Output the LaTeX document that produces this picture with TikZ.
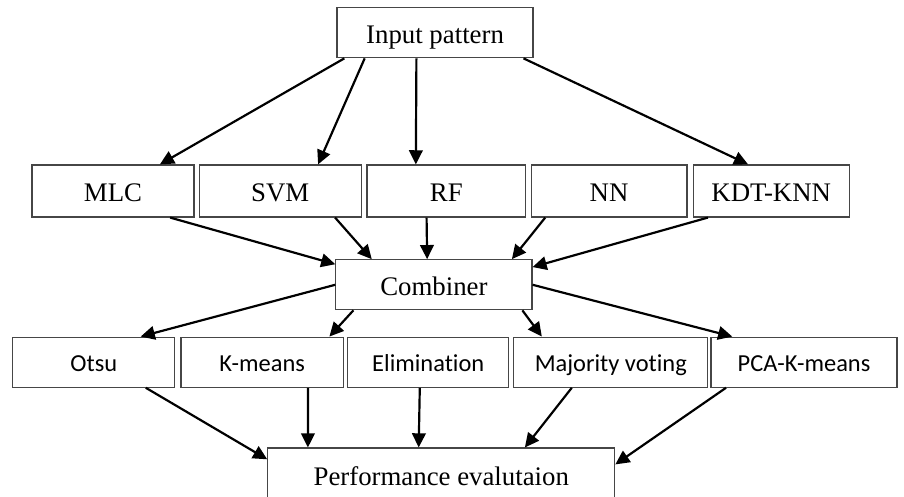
\documentclass[tikz,border=0pt]{standalone}
\usepackage{fontspec}
\setmainfont{Liberation Serif}
\newfontfamily\calibri[Ligatures=NoCommon]{Carlito}
\usepackage{tikz}
\usetikzlibrary{arrows.meta, positioning}
\definecolor{boxline}{RGB}{70,70,70}

\begin{document}
\begin{tikzpicture}[
    block/.style={rectangle, draw=boxline, line width=0.6pt, fill=white, minimum width=2.87cm, minimum height=0.92cm, inner sep=0pt, align=center, text height=10.5pt, text depth=0pt, font=\fontsize{13.5}{16}\selectfont},
    sblock/.style={block, minimum height=0.885cm, text height=9pt, text depth=0pt, font=\calibri\fontsize{12.3}{15}\selectfont},
    arrow/.style={-{Triangle[length=2.5mm, width=2.4mm]}, line width=1.1pt}
]
    \useasboundingbox (0,0) rectangle (16,-8.78);

    % Input
    \node[block, minimum width=3.47cm, minimum height=0.885cm] (input) at (7.70,-0.58) {Input pattern};

    % Classifiers
    \node[block] (mlc) at (2.00,-3.38) {MLC};
    \node[block] (svm) at (4.96,-3.38) {SVM};
    \node[block, minimum width=2.81cm] (rf) at (7.90,-3.38) {RF};
    \node[block, minimum width=2.76cm] (nn) at (10.78,-3.38) {NN};
    \node[block, minimum width=2.76cm] (kdt) at (13.65,-3.38) {KDT-KNN};

    % Combiner
    \node[block, minimum width=3.47cm, minimum height=0.885cm] (comb) at (7.68,-5.04) {Combiner};

    % Fusion methods
    \node[sblock] (otsu) at (1.66,-6.41) {Otsu};
    \node[sblock] (kmeans) at (4.64,-6.41) {K-means};
    \node[sblock, minimum width=2.85cm] (elim) at (7.58,-6.41) {Elimination};
    \node[sblock, minimum width=3.43cm] (vote) at (10.81,-6.41) {Majority voting};
    \node[sblock, minimum width=3.29cm] (pca) at (14.23,-6.41) {PCA-K-means};

    % Evaluation
    \node[block, minimum width=6.14cm, minimum height=0.96cm] (perf) at (7.81,-8.41) {Performance evalutaion};

    % Arrows
    \draw[arrow] ([xshift=0.14cm]input.south west) -- ([xshift=0.83cm]mlc.north);
    \draw[arrow] ([xshift=0.50cm]input.south west) -- ([xshift=0.67cm]svm.north);
    \draw[arrow] ([xshift=-0.33cm]input.south) -- ([xshift=-0.54cm]rf.north);
    \draw[arrow] ([xshift=-0.18cm]input.south east) -- ([xshift=-0.41cm]kdt.north);

    \draw[arrow] ([xshift=1.01cm]mlc.south) -- ([yshift=-0.09cm]comb.north west);
    \draw[arrow] ([xshift=0.97cm]svm.south) -- ([xshift=-1.10cm]comb.north);
    \draw[arrow] ([xshift=-0.35cm]rf.south) -- ([xshift=-0.12cm]comb.north);
    \draw[arrow] ([xshift=-1.13cm]nn.south) -- ([xshift=1.38cm]comb.north);
    \draw[arrow] ([xshift=-1.12cm]kdt.south) -- ([yshift=-0.14cm]comb.north east);

    \draw[arrow] (comb.west) -- ([xshift=0.83cm]otsu.north);
    \draw[arrow] ([xshift=0.32cm]comb.south west) -- ([xshift=1.19cm]kmeans.north);
    \draw[arrow] ([xshift=-0.18cm]comb.south east) -- ([xshift=-1.22cm]vote.north);
    \draw[arrow] (comb.east) -- ([xshift=-1.27cm]pca.north);

    \draw[arrow] ([xshift=0.92cm]otsu.south) -- ([yshift=-0.21cm]perf.north west);
    \draw[arrow] ([xshift=0.81cm]kmeans.south) -- ([xshift=-2.36cm]perf.north);
    \draw[arrow] ([xshift=-0.15cm]elim.south) -- ([xshift=-0.40cm]perf.north);
    \draw[arrow] ([xshift=-0.69cm]vote.south) -- ([xshift=1.48cm]perf.north);
    \draw[arrow] ([xshift=-1.38cm]pca.south) -- ([yshift=-0.30cm]perf.north east);
\end{tikzpicture}
\end{document}
